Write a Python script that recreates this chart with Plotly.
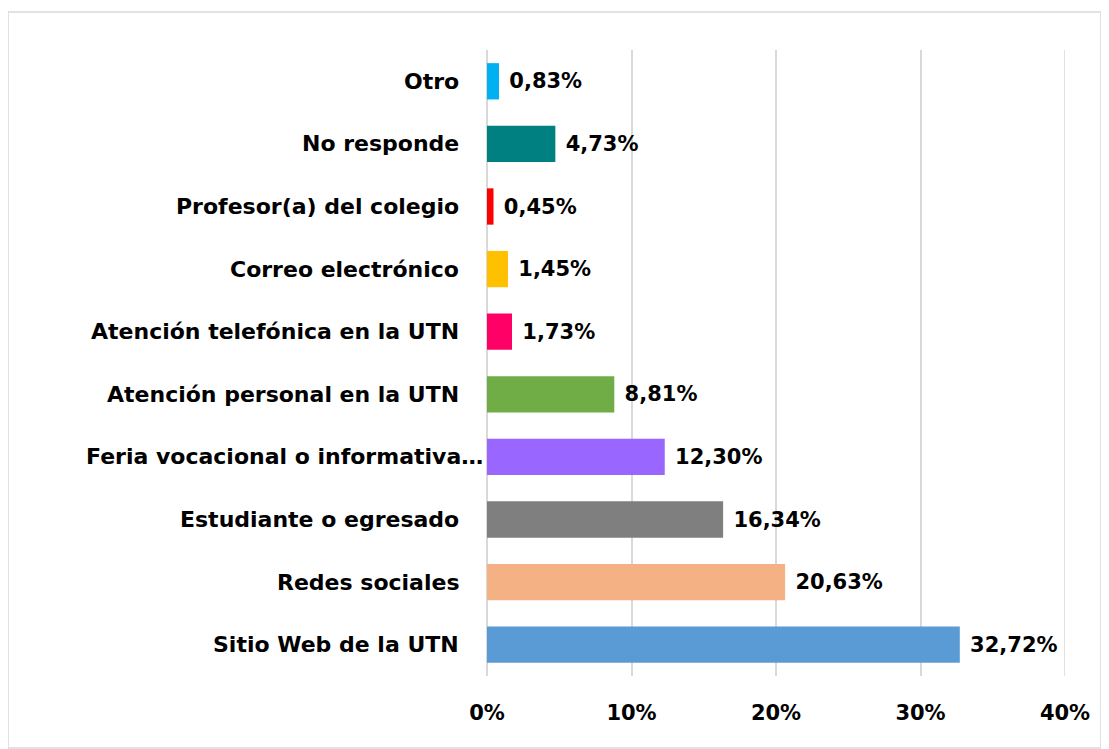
import plotly.graph_objects as go

categories = [
    "Sitio Web de la UTN",
    "Redes sociales",
    "Estudiante o egresado",
    "Feria vocacional o informativa…",
    "Atención personal en la UTN",
    "Atención telefónica en la UTN",
    "Correo electrónico",
    "Profesor(a) del colegio",
    "No responde",
    "Otro",
]
values = [32.72, 20.63, 16.34, 12.30, 8.81, 1.73, 1.45, 0.45, 4.73, 0.83]
value_labels = ["32,72%", "20,63%", "16,34%", "12,30%", "8,81%",
                "1,73%", "1,45%", "0,45%", "4,73%", "0,83%"]
colors = ["#5B9BD5", "#F4B183", "#7F7F7F", "#9966FF", "#70AD47",
          "#FF0066", "#FFC000", "#FF0000", "#008080", "#00B0F0"]
tick_vals = [0, 10, 20, 30, 40]
tick_text = ["0%", "10%", "20%", "30%", "40%"]

FONT = "DejaVu Sans"
FS = 21
GRID = "#D9D9D9"
# page body has an 8px margin, so the figure is placed at (8, 8)
W, H = 1101, 741
ml, mr, mt, mb = 479, 44, 42, 73

fig = go.Figure(go.Bar(
    x=values, y=categories, orientation="h",
    marker=dict(color=colors, line=dict(width=0)),
    text=value_labels, textposition="outside", cliponaxis=False,
    texttemplate="\u00a0%{text}",
    textfont=dict(family=FONT, size=FS, color="black", weight="bold"),
))

annotations = []
for c in categories:
    shift = -2 if c.startswith("Feria") else -26
    annotations.append(dict(
        x=0, xref="paper", y=c, yref="y", text=c, showarrow=False,
        xanchor="right", yanchor="middle", xshift=shift,
        font=dict(family=FONT, size=FS + 1, color="black", weight="bold"),
    ))

pw = W - ml - mr
ph = H - mt - mb
bx0, bx1, by0, by1 = 0, 1093, 4, 740  # border in figure pixels
shapes = [dict(type="rect", xref="paper", yref="paper",
               x0=(bx0 - ml) / pw, x1=(bx1 - ml) / pw,
               y0=(H - mb - by1) / ph, y1=(H - mb - by0) / ph,
               line=dict(color=GRID, width=1.5), layer="below"),
          dict(type="line", xref="x", yref="paper",
               x0=tick_vals[-1], x1=tick_vals[-1], y0=0, y1=1,
               line=dict(color=GRID, width=1.5), layer="below")]

fig.update_layout(
    width=W, height=H,
    margin=dict(l=ml, r=mr, t=mt, b=mb),
    paper_bgcolor="white", plot_bgcolor="white",
    bargap=0.42, showlegend=False,
    annotations=annotations,
    shapes=shapes,
    xaxis=dict(range=[0, 40], tickvals=tick_vals, ticktext=tick_text,
               showgrid=True, gridcolor=GRID, gridwidth=1.5,
               zeroline=True, zerolinecolor=GRID, zerolinewidth=1.5,
               showline=False, ticks="", ticklen=0,
               ticklabelstandoff=22,
               tickfont=dict(family=FONT, size=FS, color="black", weight="bold")),
    yaxis=dict(categoryorder="array", categoryarray=categories,
               showticklabels=False, showgrid=False, zeroline=False,
               showline=False),
)
fig.write_html("out.html")
